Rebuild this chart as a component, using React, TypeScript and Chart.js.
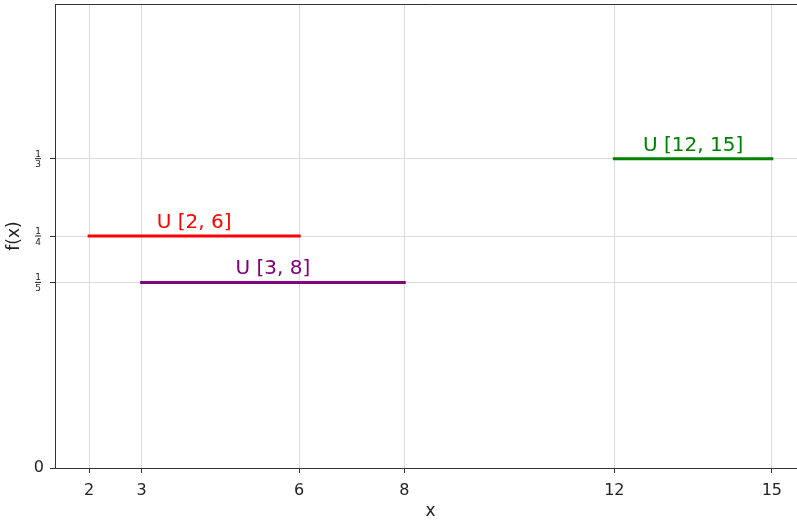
import React, { useEffect, useRef } from "react";
import { Chart, registerables } from "chart.js";

Chart.register(...registerables);

// Uniform distributions: label, support [low, high] and constant density
const distLabels = ["U [2, 6]", "U [3, 8]", "U [12, 15]"];
const lows = [2, 3, 12];
const highs = [6, 8, 15];
const densities = [1 / 4, 1 / 5, 1 / 3];
const lineColors = ["#ff0000", "#800080", "#008000"];

// Axis ticks
const xTicks = [2, 3, 6, 8, 12, 15];
const yTicks = [0, 1 / 5, 1 / 4, 1 / 3];
const yTickLabels = ["0", "1/5", "1/4", "1/3"];

const FONT = "'DejaVu Sans', sans-serif";

// Draws the top spine, the stacked-fraction y tick labels and the distribution labels
const annotations = {
  id: "annotations",
  afterDraw(chart: any) {
    const { ctx, chartArea, scales } = chart;
    const x = scales.x;
    const y = scales.y;
    ctx.save();
    // top spine
    ctx.strokeStyle = "#333";
    ctx.lineWidth = 1;
    ctx.beginPath();
    ctx.moveTo(chartArea.left, chartArea.top + 0.5);
    ctx.lineTo(chartArea.right, chartArea.top + 0.5);
    ctx.stroke();

    // fraction tick labels
    yTicks.forEach((v, i) => {
      const lab = yTickLabels[i];
      if (!lab.includes("/")) return;
      const [num, den] = lab.split("/");
      const py = y.getPixelForValue(v);
      const cx = 38;
      ctx.fillStyle = "#222";
      ctx.font = `9px ${FONT}`;
      ctx.textAlign = "center";
      ctx.textBaseline = "alphabetic";
      ctx.fillText(num, cx, py - 2);
      ctx.fillText(den, cx, py + 8.5);
      ctx.fillRect(cx - 3, py - 0.5, 6, 1);
    });

    // distribution labels above each segment
    distLabels.forEach((t, i) => {
      const px = x.getPixelForValue((lows[i] + highs[i]) / 2);
      const py = y.getPixelForValue(densities[i]);
      ctx.fillStyle = lineColors[i];
      ctx.font = `20px ${FONT}`;
      ctx.textAlign = "center";
      ctx.textBaseline = "alphabetic";
      ctx.fillText(t, px, py - 8);
    });
    ctx.restore();
  },
};

export default function App() {
  const ref = useRef<HTMLCanvasElement>(null);

  useEffect(() => {
    if (!ref.current) return;
    const chart = new Chart(ref.current, {
      type: "line",
      data: {
        datasets: distLabels.map((label, i) => ({
          label,
          data: [
            { x: lows[i], y: densities[i] },
            { x: highs[i], y: densities[i] },
          ],
          borderColor: lineColors[i],
          backgroundColor: lineColors[i],
          borderWidth: 3,
          borderCapStyle: "square" as const,
          pointRadius: 0,
          fill: false,
        })),
      },
      options: {
        responsive: false,
        animation: false,
        devicePixelRatio: 1,
        layout: { padding: { left: 0, top: 4, right: 24, bottom: 0 } },
        plugins: {
          legend: { display: false },
          tooltip: { enabled: false },
        },
        scales: {
          x: {
            type: "linear",
            min: 1.35,
            max: 15.65,
            afterBuildTicks: (s: any) => {
              s.ticks = xTicks.map((v) => ({ value: v }));
            },
            afterFit: (s: any) => {
              s.height = 54;
              s.paddingLeft = 0;
              s.paddingRight = 0;
            },
            ticks: {
              color: "#222",
              font: { family: FONT, size: 16 },
              padding: 8,
              maxRotation: 0,
              autoSkip: false,
              callback: (v: any) => String(v),
            },
            grid: {
              color: "#dcdcdc",
              tickColor: "#333",
              tickLength: 5,
              lineWidth: 1,
            },
            border: { color: "#333", width: 1 },
            title: {
              display: true,
              text: "x",
              color: "#222",
              font: { family: FONT, size: 17 },
              padding: { top: 0, bottom: 0 },
            },
          },
          y: {
            type: "linear",
            min: 0,
            max: 0.5,
            afterBuildTicks: (s: any) => {
              s.ticks = yTicks.map((v) => ({ value: v }));
            },
            afterFit: (s: any) => {
              s.width = 55;
              s.paddingTop = 0;
              s.paddingBottom = 0;
            },
            ticks: {
              color: "#222",
              font: { family: FONT, size: 16 },
              padding: 6,
              autoSkip: false,
              callback: (v: any) => {
                const i = yTicks.findIndex((t) => Math.abs(t - v) < 1e-9);
                const lab = i >= 0 ? yTickLabels[i] : "";
                return lab.includes("/") ? "" : lab;
              },
            },
            grid: {
              color: "#dcdcdc",
              tickColor: "#333",
              tickLength: 5,
              lineWidth: 1,
            },
            border: { color: "#333", width: 1 },
            title: {
              display: true,
              text: "f(x)",
              color: "#222",
              font: { family: FONT, size: 17 },
              padding: { top: 4, bottom: 0 },
            },
          },
        },
      },
      plugins: [annotations],
    });
    return () => chart.destroy();
  }, []);

  return (
    <div
      style={{
        position: "absolute",
        left: 0,
        top: 0,
        width: 797,
        height: 522,
        overflow: "hidden",
        background: "#fff",
      }}
    >
      <canvas ref={ref} width={830} height={522} style={{ width: 830, height: 522 }} />
    </div>
  );
}
